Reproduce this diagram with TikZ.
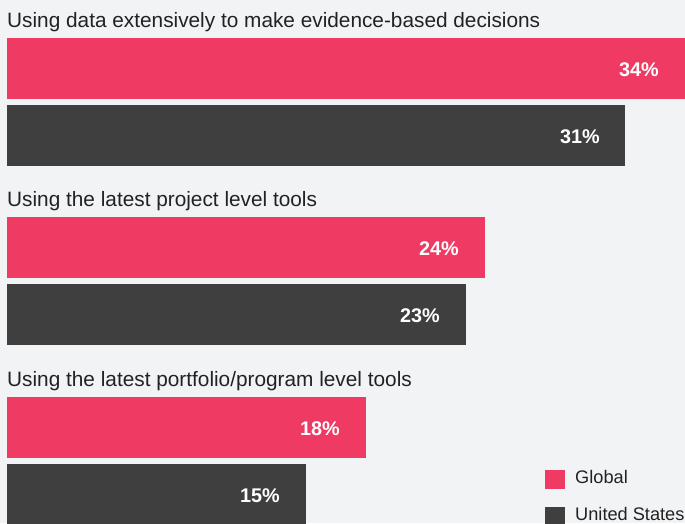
\documentclass[tikz,border=0pt]{standalone}
\usepackage{fontspec}
\setmainfont{Liberation Sans}
\definecolor{pinkc}{HTML}{EF3A64}
\definecolor{darkc}{HTML}{3F3F3F}
\definecolor{bgc}{HTML}{F2F3F5}
\definecolor{txtc}{HTML}{222222}
\begin{document}
\begin{tikzpicture}[x=1pt,y=-1pt,
  bar/.style={inner sep=0pt,outer sep=0pt,draw=none,anchor=north west,minimum height=61pt},
  gbar/.style={bar,fill=pinkc},
  ubar/.style={bar,fill=darkc},
  val/.style={inner sep=0pt,anchor=base east,text=white,font=\fontsize{19.8}{22}\selectfont\bfseries},
  ttl/.style={inner sep=0pt,anchor=base west,text=txtc,font=\fontsize{20.8}{23}\selectfont},
  legsq/.style={inner sep=0pt,outer sep=0pt,anchor=north west,minimum width=20pt,minimum height=19pt},
  legtxt/.style={inner sep=0pt,anchor=base west,text=txtc,font=\fontsize{18.2}{20}\selectfont}]
\useasboundingbox (0,0) rectangle (685,523);
\clip (0,0) rectangle (685,523);
\fill[bgc] (0,0) rectangle (685,523);
% group 1
\node[ttl] (t1) at (7,27) {Using data extensively to make evidence-based decisions};
\node[gbar,minimum width=678pt] (g1) at (7,38) {};
\node[ubar,minimum width=618pt] (u1) at (7,105) {};
\node[val] (g1l) at ([xshift=-26pt,yshift=-7.5pt]g1.east) {34\%};
\node[val] (u1l) at ([xshift=-25pt,yshift=-7.5pt]u1.east) {31\%};
% group 2
\node[ttl] (t2) at (7,206) {Using the latest project level tools};
\node[gbar,minimum width=478pt] (g2) at (7,217) {};
\node[ubar,minimum width=459pt] (u2) at (7,284) {};
\node[val] (g2l) at ([xshift=-26pt,yshift=-7.5pt]g2.east) {24\%};
\node[val] (u2l) at ([xshift=-26pt,yshift=-7.5pt]u2.east) {23\%};
% group 3
\node[ttl] (t3) at (7,386) {Using the latest portfolio/program level tools};
\node[gbar,minimum width=359pt] (g3) at (7,397) {};
\node[ubar,minimum width=299pt] (u3) at (7,464) {};
\node[val] (g3l) at ([xshift=-26pt,yshift=-7.5pt]g3.east) {18\%};
\node[val] (u3l) at ([xshift=-26pt,yshift=-7.5pt]u3.east) {15\%};
% legend
\node[legsq,fill=pinkc] (lg) at (545,470) {};
\node[legtxt] (lgt) at (575,483) {Global};
\node[legsq,fill=darkc] (lu) at (545,507) {};
\node[legtxt] (lut) at (575,520) {United States};
\end{tikzpicture}
\end{document}
